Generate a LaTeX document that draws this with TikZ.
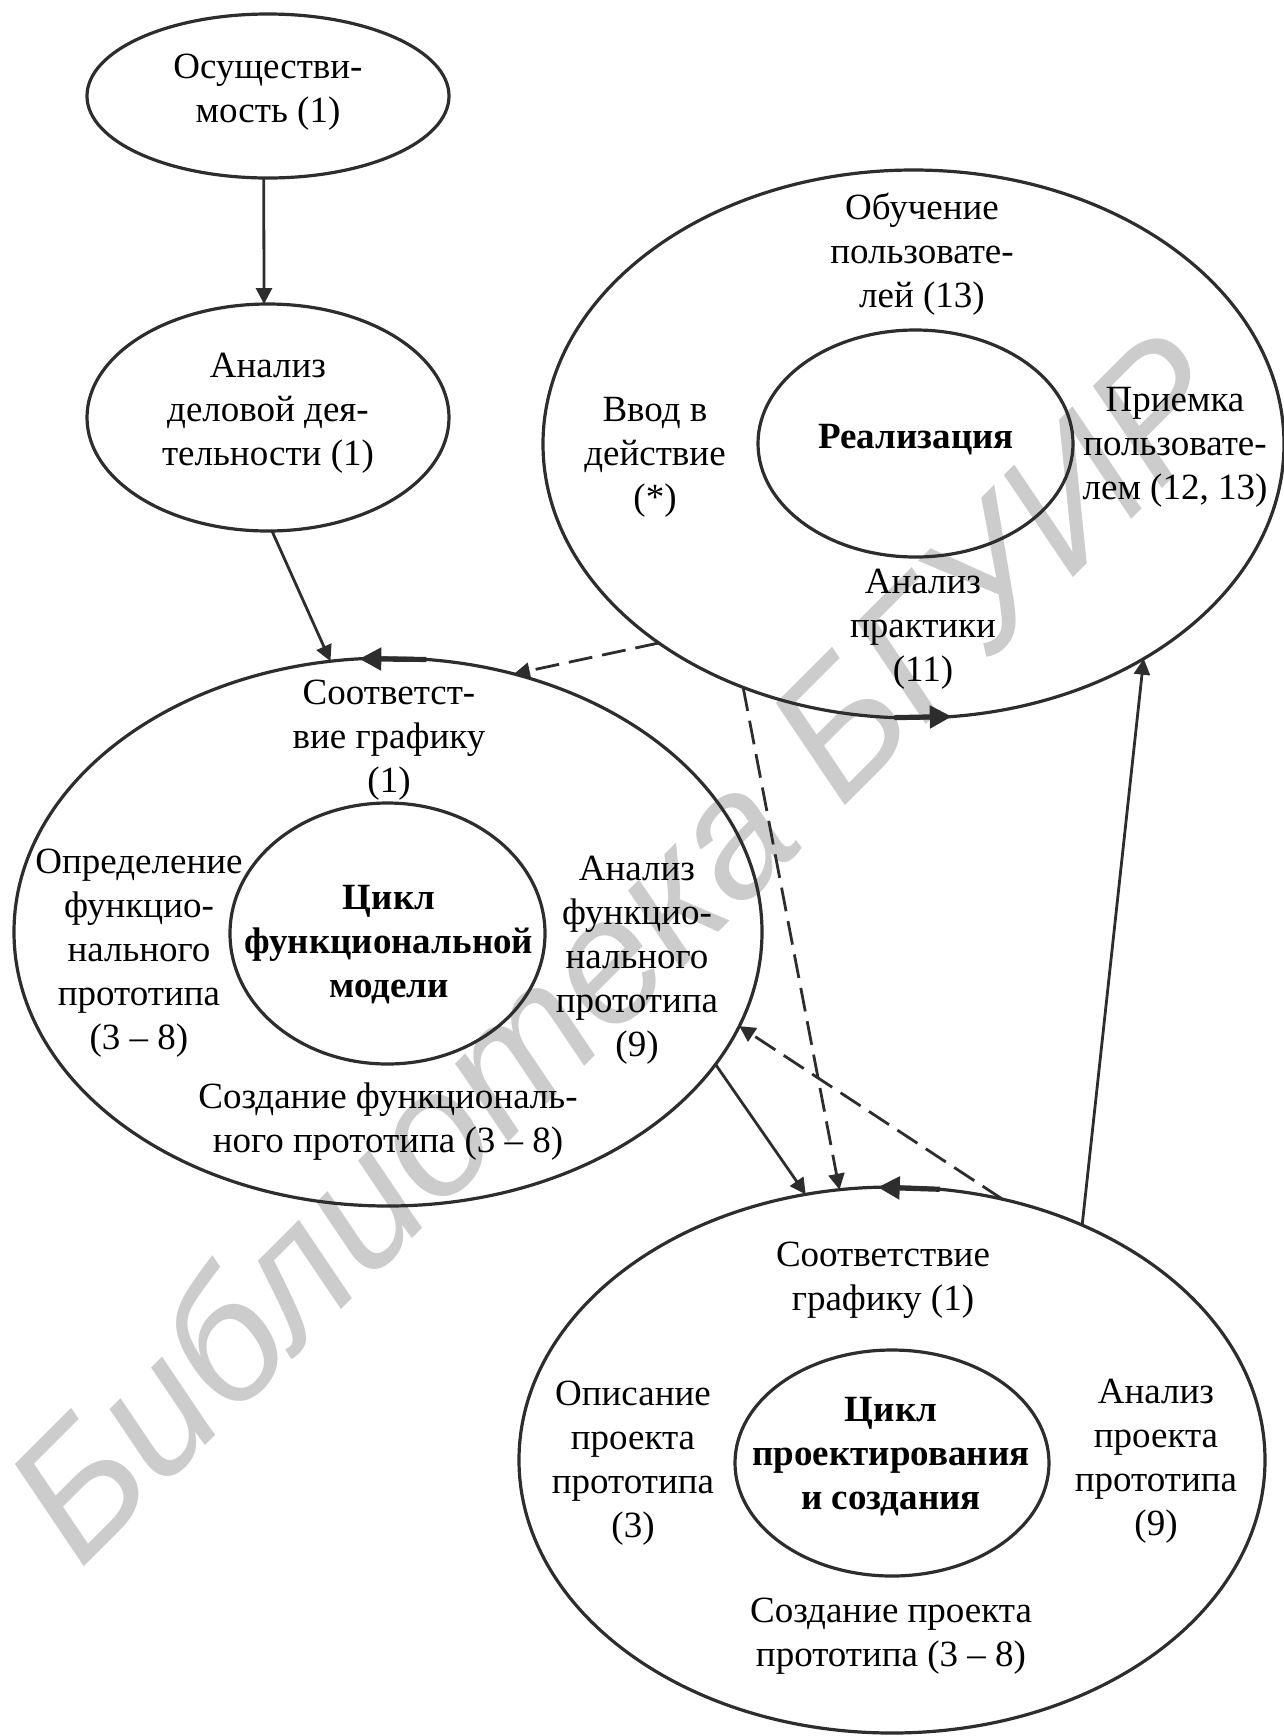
\documentclass[tikz,border=0pt]{standalone}
\usepackage{fontspec}
\setmainfont{Liberation Serif}
\newfontfamily\wmfont{Liberation Sans}
\usetikzlibrary{arrows.meta,shapes.geometric}
\definecolor{ln}{RGB}{45,45,45}
\definecolor{wmc}{RGB}{204,204,204}
\begin{document}
\begin{tikzpicture}[x=0.5pt,y=-0.5pt,
  oval/.style={ellipse, draw=ln, line width=1.6pt, inner sep=0pt, outer sep=0pt},
  lbl/.style={align=center, inner sep=0pt, font=\fontsize{18.5pt}{22pt}\selectfont},
  blbl/.style={align=center, inner sep=0pt, font=\fontsize{18.5pt}{22pt}\selectfont\bfseries},
  conn/.style={draw=ln, line width=1.4pt, -{Triangle[length=8pt,width=8pt]}},
  dconn/.style={conn, dash pattern=on 12pt off 5pt},
  thk/.style={draw=ln, line width=2.6pt, -{Triangle[length=11pt,width=11pt]}},
  wmark/.style={text=wmc, inner sep=0pt, font=\wmfont\itshape\fontsize{88pt}{88pt}\selectfont}]
\useasboundingbox (0,0) rectangle (1284,1736);
% watermark
\node[wmark, rotate=45, anchor=base west] (wm) at (80,1571) {Библиотека БГУИР};
% ellipses
\node[oval, minimum width=181pt, minimum height=82pt] (E1) at (268,96) {};
\node[oval, minimum width=181pt, minimum height=113.5pt] (E2) at (268,417.5) {};
\node[oval, minimum width=370.5pt, minimum height=274pt] (R) at (913.5,444) {};
\node[oval, minimum width=157.5pt, minimum height=113.5pt] (Ri) at (915.5,443.5) {};
\node[oval, minimum width=374pt, minimum height=274pt] (F) at (388,932) {};
\node[oval, minimum width=157.5pt, minimum height=130.5pt] (Fi) at (387.5,933.5) {};
\node[oval, minimum width=373pt, minimum height=273pt] (P) at (892,1460) {};
\node[oval, minimum width=157pt, minimum height=113pt] (Pi) at (892,1463) {};
% labels
\node[lbl] (E1t) at (268,92) {Осуществи-\\мость (1)};
\node[lbl] (E2t) at (268,413) {Анализ\\деловой дея-\\тельности (1)};
\node[lbl] (Rt) at (922,254) {Обучение\\пользовате-\\лей (13)};
\node[lbl] (Rl) at (655,457) {Ввод в\\действие\\(*)};
\node[blbl] (Rc) at (916,440) {Реализация};
\node[lbl] (Rr) at (1175,447) {Приемка\\пользовате-\\лем (12, 13)};
\node[lbl] (Rb) at (923,629) {Анализ\\практики\\(11)};
\node[lbl] (Ft) at (389,740) {Соответст-\\вие графику\\(1)};
\node[lbl] (Fl) at (139,953) {Определение\\функцио-\\нального\\прототипа\\(3 – 8)};
\node[blbl] (Fc) at (389,945) {Цикл\\функциональной\\модели};
\node[lbl] (Fr) at (637,960) {Анализ\\функцио-\\нального\\прототипа\\(9)};
\node[lbl] (Fb) at (388,1122) {Создание функциональ-\\ного прототипа (3 – 8)};
\node[lbl] (Pt) at (883,1280) {Соответствие\\графику (1)};
\node[lbl] (Pl) at (633,1463) {Описание\\проекта\\прототипа\\(3)};
\node[blbl] (Pc) at (891,1457) {Цикл\\проектирования\\и создания};
\node[lbl] (Pr) at (1156,1461) {Анализ\\проекта\\прототипа\\(9)};
\node[lbl] (Pb) at (891,1636) {Создание проекта\\прототипа (3 – 8)};
% connectors
\draw[conn] (E1.-93.5) -- (E2.92.5);
\draw[conn] (E2.-88.5) -- (F.102.6);
\draw[dconn] (R.218.7) -- (F.64.9);
\draw[dconn] (R.235.8) -- (P.101.6);
\draw[conn] (F.-22) -- (P.108.9);
\draw[dconn] (P.67.3) -- (F.-15.2);
\draw[conn] (P.51.3) -- (R.-43.9);
% cycle arrows on the rims
\draw[thk] (F.82.5) -- (F.96.7);
\draw[thk] (R.266.6) -- (R.278.8);
\draw[thk] (P.80) -- (P.93.8);
\end{tikzpicture}
\end{document}
